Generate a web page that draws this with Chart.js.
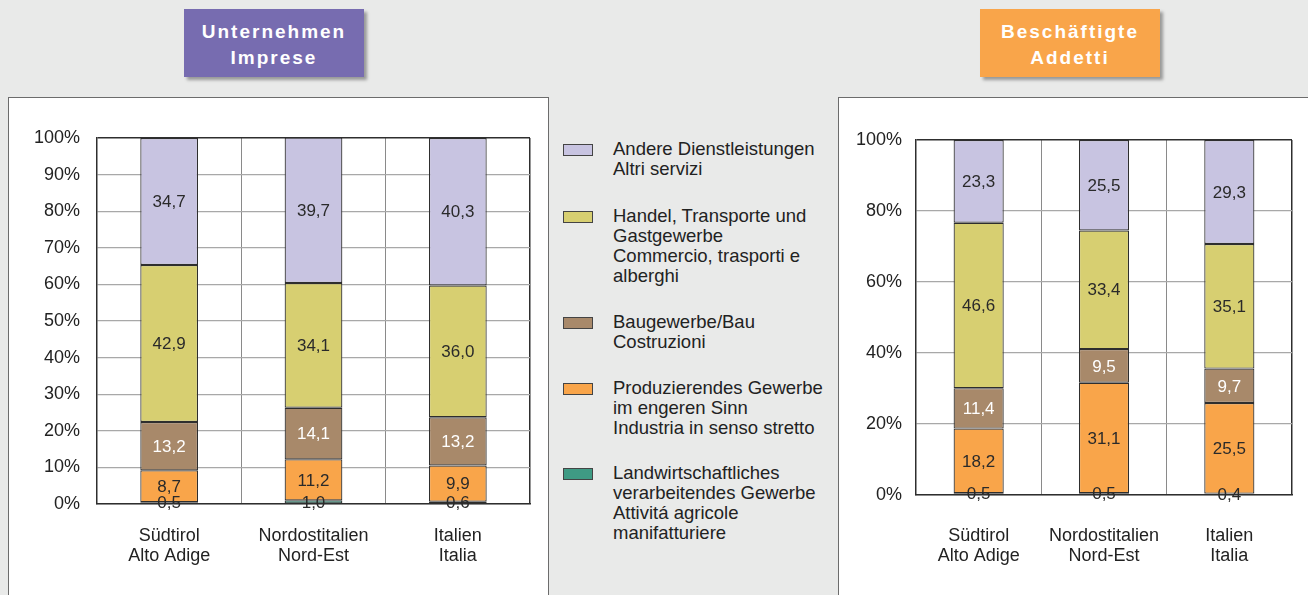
<!DOCTYPE html>
<html>
<head>
<meta charset="utf-8">
<script src="https://cdn.jsdelivr.net/npm/chart.js@4.4.0/dist/chart.umd.min.js"></script>
<style>
  html, body { margin: 0; padding: 0; }
  body { width: 1308px; height: 595px; background: #e9eae9; position: relative; overflow: hidden;
         font-family: "Liberation Sans", Arial, sans-serif; }
  .kopf { position: absolute; top: 9px; height: 68px; width: 180px; color: #fff; font-weight: bold;
          font-size: 19px; letter-spacing: 2px; line-height: 26px; text-align: center;
          box-sizing: border-box; padding-top: 10px; box-shadow: 3px 3px 3px rgba(0,0,0,0.35); }
  .panel { position: absolute; top: 97px; background: #fff; border: 1.5px solid #6c6c6c; }
  .panel canvas { position: absolute; left: 0; top: 0; }
  #legende { position: absolute; left: 563px; top: 0; font-size: 18.5px; line-height: 20px; color: #222; }
  .eintrag { position: absolute; left: 0; white-space: nowrap; }
  .kaestchen { position: absolute; left: 0; top: 4px; width: 28px; height: 10px; border: 1px solid #444; }
  .text { position: absolute; left: 50px; top: -1px; }
</style>
</head>
<body>
<div class="kopf" style="left:184px; background:#776cb0;">Unternehmen<br>Imprese</div>
<div class="kopf" style="left:980px; background:#f9a54a;">Beschäftigte<br>Addetti</div>

<div class="panel" style="left:8px; width:539px; height:510px;"><canvas id="links" width="539" height="497"></canvas></div>
<div class="panel" style="left:838px; width:480px; height:510px;"><canvas id="rechts" width="469" height="497"></canvas></div>

<div id="legende"></div>

<script>
// Kategorien
const gebiete = [['Südtirol', 'Alto Adige'], ['Nordostitalien', 'Nord-Est'], ['Italien', 'Italia']];

// Sektoren (von unten nach oben gestapelt)
const sektoren = [
  'Landwirtschaftliches\nverarbeitendes Gewerbe\nAttivitá agricole\nmanifatturiere',
  'Produzierendes Gewerbe\nim engeren Sinn\nIndustria in senso stretto',
  'Baugewerbe/Bau\nCostruzioni',
  'Handel, Transporte und\nGastgewerbe\nCommercio, trasporti e\nalberghi',
  'Andere Dienstleistungen\nAltri servizi'
];
const farben = ['#3f9b84', '#f9a54a', '#a8896a', '#d7cf71', '#c8c4e1'];

// Unternehmen / Imprese (%)
const untLandw   = [0.5, 1.0, 0.6];
const untProd    = [8.7, 11.2, 9.9];
const untBau     = [13.2, 14.1, 13.2];
const untHandel  = [42.9, 34.1, 36.0];
const untAndere  = [34.7, 39.7, 40.3];

// Beschäftigte / Addetti (%)
const besLandw   = [0.5, 0.5, 0.4];
const besProd    = [18.2, 31.1, 25.5];
const besBau     = [11.4, 9.5, 9.7];
const besHandel  = [46.6, 33.4, 35.1];
const besAndere  = [23.3, 25.5, 29.3];

const schrift = '"Liberation Sans", Arial, sans-serif';

// Werte in die Balken schreiben
const wertePlugin = {
  id: 'werte',
  afterDatasetsDraw(chart) {
    const ctx = chart.ctx;
    ctx.save();
    ctx.font = '17px ' + schrift;
    ctx.textAlign = 'center';
    ctx.textBaseline = 'middle';
    chart.data.datasets.forEach((ds, i) => {
      const meta = chart.getDatasetMeta(i);
      meta.data.forEach((bar, j) => {
        const p = bar.getProps(['x', 'y', 'base'], true);
        ctx.fillStyle = i === 2 ? '#ffffff' : '#2a2a2a';
        ctx.fillText(ds.data[j].toFixed(1).replace('.', ','), p.x, (p.y + p.base) / 2 + 1);
      });
    });
    ctx.restore();
  }
};

function diagramm(id, reihen, schritt, yBreite, xHoehe, pad, tickPad, xPad) {
  new Chart(document.getElementById(id), {
    type: 'bar',
    data: {
      labels: gebiete,
      datasets: reihen.map((werte, i) => ({
        label: sektoren[i],
        data: werte,
        backgroundColor: farben[i],
        borderColor: '#2e2e2e',
        borderWidth: 1.2,
        borderSkipped: false,
        categoryPercentage: 1,
        barPercentage: 0.4
      }))
    },
    options: {
      responsive: false,
      animation: false,
      devicePixelRatio: 1,
      layout: { padding: pad },
      plugins: { legend: { display: false }, tooltip: { enabled: false } },
      scales: {
        x: {
          stacked: true,
          afterFit: s => { s.height = xHoehe; },
          grid: {
            offset: true,
            drawTicks: false,
            color: c => (c.type !== 'tick' ? '#2e2e2e' : '#8a8a8a'),
            lineWidth: c => (c.type !== 'tick' ? 1.5 : 1)
          },
          border: { display: true, color: '#2e2e2e', width: 1.5 },
          ticks: { color: '#222', padding: xPad, font: { family: schrift, size: 18, lineHeight: 20 / 18 } }
        },
        y: {
          stacked: true,
          min: 0,
          max: 100,
          afterFit: s => { s.width = yBreite; },
          grid: {
            drawTicks: false,
            color: c => (c.tick && c.tick.value === 100 ? '#2e2e2e' : '#a8a8a8'),
            lineWidth: c => (c.tick && c.tick.value === 100 ? 1.5 : 1.3)
          },
          border: { display: true, color: '#2e2e2e', width: 1.5 },
          ticks: {
            stepSize: schritt,
            color: '#222',
            padding: tickPad,
            font: { family: schrift, size: 18 },
            callback: v => v + '%'
          }
        }
      }
    },
    plugins: [wertePlugin]
  });
}

diagramm('links', [untLandw, untProd, untBau, untHandel, untAndere], 10, 88, 91,
         { top: 40, right: 18, left: 0, bottom: 0 }, 17, 22);
diagramm('rechts', [besLandw, besProd, besBau, besHandel, besAndere], 20, 77, 100,
         { top: 42, right: 16, left: 0, bottom: 0 }, 14, 31);

// Legende (von oben nach unten wie im Original)
const legendeOben = [140, 207, 313, 379, 464];
const legende = document.getElementById('legende');
[4, 3, 2, 1, 0].forEach((k, n) => {
  const e = document.createElement('div');
  e.className = 'eintrag';
  e.style.top = legendeOben[n] + 'px';
  e.innerHTML = '<div class="kaestchen" style="background:' + farben[k] + '"></div>' +
                '<div class="text">' + sektoren[k].split('\n').join('<br>') + '</div>';
  legende.appendChild(e);
});
</script>
</body>
</html>
